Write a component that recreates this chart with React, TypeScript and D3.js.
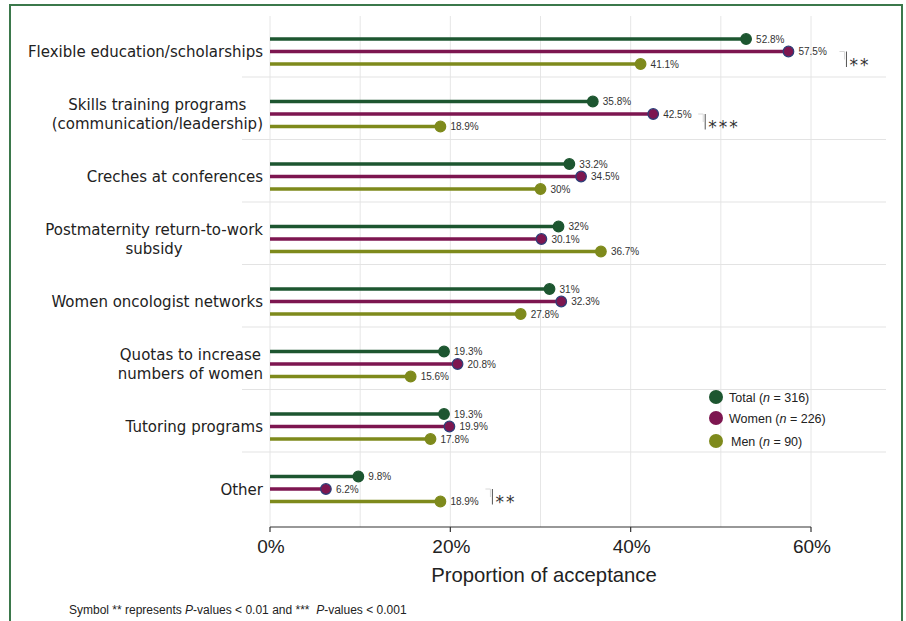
import React, { useEffect, useRef } from "react";
import * as d3 from "d3";

const categories: string[][] = [
  ["Flexible education/scholarships"],
  ["Skills training programs", "(communication/leadership)"],
  ["Creches at conferences"],
  ["Postmaternity return-to-work", "subsidy"],
  ["Women oncologist networks"],
  ["Quotas to increase", "numbers of women"],
  ["Tutoring programs"],
  ["Other"],
];
const totalValues = [52.8, 35.8, 33.2, 32, 31, 19.3, 19.3, 9.8];
const womenValues = [57.5, 42.5, 34.5, 30.1, 32.3, 20.8, 19.9, 6.2];
const menValues = [41.1, 18.9, 30, 36.7, 27.8, 15.6, 17.8, 18.9];
const valueLabels = {
  total: ["52.8%", "35.8%", "33.2%", "32%", "31%", "19.3%", "19.3%", "9.8%"],
  women: ["57.5%", "42.5%", "34.5%", "30.1%", "32.3%", "20.8%", "19.9%", "6.2%"],
  men: ["41.1%", "18.9%", "30%", "36.7%", "27.8%", "15.6%", "17.8%", "18.9%"],
};
const significance = ["**", "***", "", "", "", "", "", "**"];
const seriesNames = ["Total", "Women", "Men"];
const seriesN = [316, 226, 90];
const xTicks = [0, 20, 40, 60];
const gridTicks = [0, 10, 20, 30, 40, 50, 60];
const axisTitle = "Proportion of acceptance";

const COLORS = ["#1d5630", "#7d1650", "#7e8a1c"];

export default function App() {
  const ref = useRef<SVGSVGElement | null>(null);

  useEffect(() => {
    const svg = d3.select(ref.current);
    svg.selectAll("*").remove();

    const x = d3.scaleLinear().domain([0, 60]).range([270, 811]);
    const groupY = d3
      .scalePoint<number>()
      .domain(d3.range(categories.length))
      .range([51.5, 489]);
    const off = 12.5;
    const panelTop = 16;
    const panelBottom = 527;
    const panelLeft = 242;
    const panelRight = 886;

    svg
      .append("rect")
      .attr("width", 906)
      .attr("height", 621)
      .attr("fill", "#fff");

    // border
    svg
      .append("rect")
      .attr("x", 10)
      .attr("y", 5)
      .attr("width", 892)
      .attr("height", 640)
      .attr("fill", "none")
      .attr("stroke", "#3b784b")
      .attr("stroke-width", 2);

    // vertical gridlines
    svg
      .append("g")
      .selectAll("line")
      .data(gridTicks)
      .join("line")
      .attr("x1", (d) => x(d))
      .attr("x2", (d) => x(d))
      .attr("y1", panelTop)
      .attr("y2", panelBottom)
      .attr("stroke", "#e6e6e6")
      .attr("stroke-width", 1);

    // separators
    svg
      .append("g")
      .selectAll("line")
      .data(d3.range(categories.length - 1))
      .join("line")
      .attr("x1", panelLeft)
      .attr("x2", panelRight)
      .attr("y1", (i) => groupY(i)! + 25.5)
      .attr("y2", (i) => groupY(i)! + 25.5)
      .attr("stroke", "#e3e3e3")
      .attr("stroke-width", 1);

    // axis
    const axisG = svg.append("g").attr("transform", `translate(0,${panelBottom})`);
    axisG
      .append("line")
      .attr("x1", x(0))
      .attr("x2", x(60))
      .attr("stroke", "#333")
      .attr("stroke-width", 1.2);
    axisG
      .selectAll("line.tick")
      .data(xTicks)
      .join("line")
      .attr("class", "tick")
      .attr("x1", (d) => x(d))
      .attr("x2", (d) => x(d))
      .attr("y1", 0)
      .attr("y2", 5)
      .attr("stroke", "#333")
      .attr("stroke-width", 1.2);
    axisG
      .selectAll("text")
      .data(xTicks)
      .join("text")
      .attr("x", (d) => x(d) + 1)
      .attr("y", 26)
      .attr("text-anchor", "middle")
      .attr("font-family", "Liberation Sans, Arial, sans-serif")
      .attr("font-size", 19)
      .attr("fill", "#222")
      .text((d) => `${d}%`);

    svg
      .append("text")
      .attr("x", 544)
      .attr("y", 582)
      .attr("text-anchor", "middle")
      .attr("font-family", "Liberation Sans, Arial, sans-serif")
      .attr("font-size", 20.3)
      .attr("fill", "#222")
      .text(axisTitle);

    // category labels
    const labelRight = 263;
    categories.forEach((lines, i) => {
      const g = svg.append("g");
      const cy = groupY(i)!;
      const lh = 19;
      const texts = lines.map((ln, j) =>
        g
          .append("text")
          .attr("y", cy + (j - (lines.length - 1) / 2) * lh + 5.5)
          .attr("text-anchor", "middle")
          .attr("font-family", "DejaVu Sans, Verdana, sans-serif")
          .attr("font-size", 15)
          .attr("fill", "#222")
          .text(ln)
      );
      const widths = texts.map((t) => (t.node() as SVGTextElement).getComputedTextLength());
      const maxW = Math.max(...widths);
      texts.forEach((t) => t.attr("x", labelRight - maxW / 2));
    });

    // lollipops
    const series = [
      { vals: totalValues, labels: valueLabels.total, dy: -off, color: COLORS[0], stroke: COLORS[0] },
      { vals: womenValues, labels: valueLabels.women, dy: 0, color: COLORS[1], stroke: "#2c3f78" },
      { vals: menValues, labels: valueLabels.men, dy: off, color: COLORS[2], stroke: COLORS[2] },
    ];
    series.forEach((s) => {
      const g = svg.append("g");
      const data = s.vals.map((v, i) => ({ v, i, label: s.labels[i] }));
      g.selectAll("line")
        .data(data)
        .join("line")
        .attr("x1", x(0))
        .attr("x2", (d) => x(d.v))
        .attr("y1", (d) => groupY(d.i)! + s.dy)
        .attr("y2", (d) => groupY(d.i)! + s.dy)
        .attr("stroke", s.color)
        .attr("stroke-width", 3.5);
      g.selectAll("circle")
        .data(data)
        .join("circle")
        .attr("cx", (d) => x(d.v))
        .attr("cy", (d) => groupY(d.i)! + s.dy)
        .attr("r", 5.3)
        .attr("fill", s.color)
        .attr("stroke", s.stroke)
        .attr("stroke-width", 1.2);
      g.selectAll("text")
        .data(data)
        .join("text")
        .attr("x", (d) => x(d.v) + 10)
        .attr("y", (d) => groupY(d.i)! + s.dy + 3.5)
        .attr("font-family", "Liberation Sans, Arial, sans-serif")
        .attr("font-size", 10)
        .attr("fill", "#333")
        .text((d) => d.label);
    });

    // significance brackets
    significance.forEach((sig, i) => {
      if (!sig) return;
      const maxV = Math.max(totalValues[i], womenValues[i], menValues[i]);
      const bx = x(maxV) + (i === 0 ? 56 : 50);
      const cy = groupY(i)!;
      const y0 = cy;
      const y1 = cy + off + 3;
      svg
        .append("path")
        .attr("d", `M${bx - 5},${y0} H${bx} V${y0 + 8}`)
        .attr("fill", "none")
        .attr("stroke", "#d8d8d8")
        .attr("stroke-width", 1);
      svg
        .append("line")
        .attr("x1", bx + 2)
        .attr("x2", bx + 2)
        .attr("y1", y0)
        .attr("y2", y1)
        .attr("stroke", "#555")
        .attr("stroke-width", 1);
      svg
        .append("text")
        .attr("x", bx + 5)
        .attr("y", cy + 19)
        .attr("font-family", "DejaVu Sans, sans-serif")
        .attr("font-size", 17)
        .attr("letter-spacing", 2)
        .attr("fill", "#333")
        .text(sig);
    });

    // legend
    const lg = svg.append("g");
    const legendY = [397, 418, 441];
    seriesNames.forEach((name, i) => {
      lg.append("circle")
        .attr("cx", 716)
        .attr("cy", legendY[i])
        .attr("r", 7)
        .attr("fill", COLORS[i]);
      const t = lg
        .append("text")
        .attr("x", i === 2 ? 731 : 729)
        .attr("y", legendY[i] + 4.5)
        .attr("font-family", "Liberation Sans, Arial, sans-serif")
        .attr("font-size", 12.5)
        .attr("fill", "#222");
      t.append("tspan").text(`${name} (`);
      t.append("tspan").attr("font-style", "italic").text("n");
      t.append("tspan").text(` = ${seriesN[i]})`);
    });

    // footnote
    const fn = svg
      .append("text")
      .attr("x", 69)
      .attr("y", 614)
      .attr("font-family", "Liberation Sans, Arial, sans-serif")
      .attr("font-size", 12)
      .attr("fill", "#222");
    fn.append("tspan").text("Symbol ** represents ");
    fn.append("tspan").attr("font-style", "italic").text("P");
    fn.append("tspan").text("-values < 0.01 and ***\u00a0\u00a0");
    fn.append("tspan").attr("font-style", "italic").text("P");
    fn.append("tspan").text("-values < 0.001");
  }, []);

  return (
    <svg
      ref={ref}
      width={906}
      height={621}
      style={{ position: "absolute", left: 0, top: 0, display: "block" }}
    />
  );
}
